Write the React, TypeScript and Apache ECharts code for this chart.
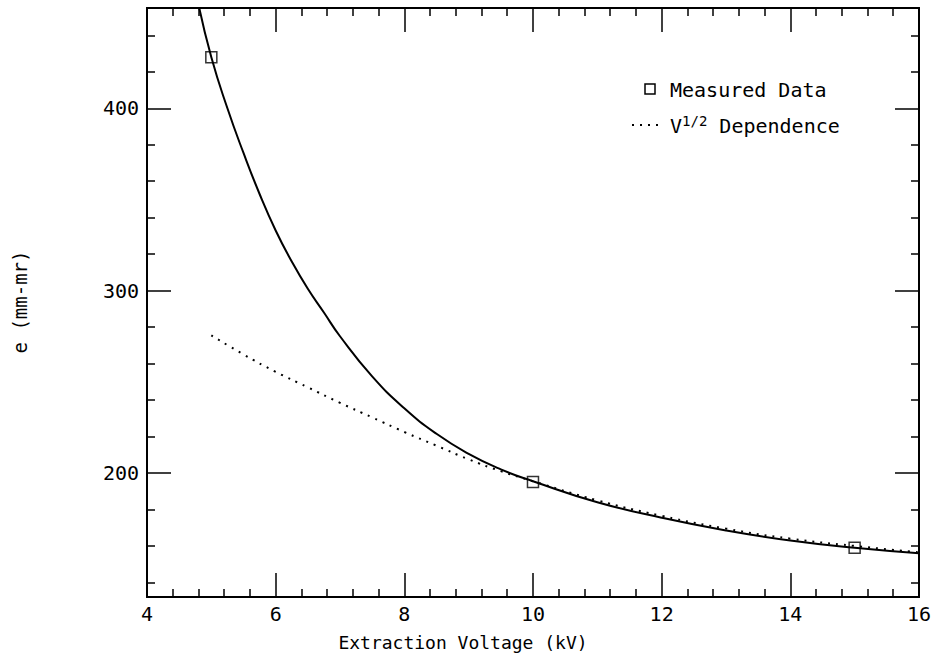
import React, { useEffect, useRef } from "react";
import * as echarts from "echarts";

// Measured data points
const measuredVoltage = [5, 10, 15];
const measuredEmittance = [428, 195, 159];

// Solid fitted curve
const fitVoltage = [4.8, 5.0, 5.25, 5.5, 5.75, 6.0, 6.25, 6.5, 6.75, 7.0, 7.5, 8.0, 8.5, 9.0, 9.5, 10.0, 11.0, 12.0, 13.0, 14.0, 15.0, 16.0];
const fitEmittance = [457, 428, 400, 375.5, 353, 333, 316, 301, 288, 275, 253, 235.5, 221.5, 210.5, 202, 195.5, 184, 175.5, 168.5, 163, 159, 156];

// Dotted V^1/2 dependence curve
const sqrtVoltage = [5, 5.5, 6, 6.5, 7, 7.5, 8, 8.5, 9, 9.5, 10, 11, 12, 13, 14, 15, 16];
const sqrtEmittance = [275.5, 265, 255.5, 247, 238.5, 230.5, 222.5, 215, 207.5, 201, 195.5, 185, 176.5, 169.5, 164, 160, 156.5];

// Axis ticks
const yMajorTicks = [200, 300, 400];
const yMinorTicks = [140, 160, 180, 220, 240, 260, 280, 320, 340, 360, 380, 420, 440];

// Legend labels
const legendMeasured = "Measured Data";
const legendSqrt = "{v|V}{s|1/2}{v| Dependence}";

const FONT = "DejaVu Sans Mono";
const BLACK = "#000";

export default function App() {
  const ref = useRef<HTMLDivElement>(null);

  useEffect(() => {
    document.body.style.margin = "0";
    const chart = echarts.init(ref.current!, null, { renderer: "svg" });

    const baseX = {
      type: "value",
      min: 4,
      max: 16,
      interval: 2,
      axisLine: { show: true, onZero: false, lineStyle: { color: BLACK, width: 2 } },
      axisTick: { show: true, inside: true, length: 24, lineStyle: { color: BLACK, width: 1.5 } },
      minorTick: { show: true, splitNumber: 5, length: 8, lineStyle: { color: BLACK, width: 1.5 } },
      splitLine: { show: false },
      minorSplitLine: { show: false },
    };

    const baseY = {
      type: "value",
      min: 132,
      max: 455,
      axisLine: { show: true, onZero: false, lineStyle: { color: BLACK, width: 2 } },
      splitLine: { show: false },
    };

    const option: any = {
      animation: false,
      backgroundColor: "#fff",
      grid: { left: 147, right: 11, top: 8, bottom: 60, containLabel: false },
      xAxis: [
        {
          ...baseX,
          position: "bottom",
          axisLabel: { show: true, color: BLACK, fontSize: 20, fontFamily: FONT, margin: 7 },
        },
        {
          ...baseX,
          position: "top",
          axisLabel: { show: false },
        },
      ],
      yAxis: [
        {
          ...baseY,
          position: "left",
          axisTick: { show: true, inside: true, length: 24, customValues: yMajorTicks, lineStyle: { color: BLACK, width: 1.5 } },
          axisLabel: { show: true, customValues: yMajorTicks, color: BLACK, fontSize: 20, fontFamily: FONT, margin: 8 },
        },
        {
          ...baseY,
          position: "left",
          axisTick: { show: true, inside: true, length: 8, customValues: yMinorTicks, lineStyle: { color: BLACK, width: 1.5 } },
          axisLabel: { show: false },
        },
        {
          ...baseY,
          position: "right",
          axisTick: { show: true, inside: true, length: 24, customValues: yMajorTicks, lineStyle: { color: BLACK, width: 1.5 } },
          axisLabel: { show: false },
        },
        {
          ...baseY,
          position: "right",
          axisTick: { show: true, inside: true, length: 8, customValues: yMinorTicks, lineStyle: { color: BLACK, width: 1.5 } },
          axisLabel: { show: false },
        },
      ],
      series: [
        {
          name: "Fit",
          type: "line",
          xAxisIndex: 0,
          yAxisIndex: 0,
          data: fitVoltage.map((v, i) => [v, fitEmittance[i]]),
          smooth: 0.5,
          symbol: "none",
          clip: true,
          lineStyle: { color: BLACK, width: 2 },
          z: 3,
        },
        {
          name: "V1/2 Dependence",
          type: "line",
          xAxisIndex: 0,
          yAxisIndex: 0,
          data: sqrtVoltage.map((v, i) => [v, sqrtEmittance[i]]),
          smooth: 0.5,
          symbol: "none",
          clip: true,
          lineStyle: { color: BLACK, width: 2, type: [2, 6], cap: "butt" },
          z: 2,
        },
        {
          name: "Measured Data",
          type: "scatter",
          xAxisIndex: 0,
          yAxisIndex: 0,
          data: measuredVoltage.map((v, i) => [v, measuredEmittance[i]]),
          symbol: "rect",
          symbolSize: 11,
          itemStyle: { color: "rgba(0,0,0,0)", borderColor: BLACK, borderWidth: 1.5 },
          z: 4,
        },
      ],
      graphic: [
        // legend
        {
          type: "rect",
          shape: { x: 645, y: 84, width: 10, height: 10 },
          style: { fill: "none", stroke: BLACK, lineWidth: 1.5 },
        },
        {
          type: "text",
          x: 670,
          y: 90,
          style: {
            text: legendMeasured,
            fontSize: 20,
            fontFamily: FONT,
            fill: BLACK,
            textAlign: "left",
            textVerticalAlign: "middle",
          },
        },
        {
          type: "line",
          shape: { x1: 632, y1: 125, x2: 662, y2: 125 },
          style: { stroke: BLACK, lineWidth: 2, lineDash: [2, 6] },
        },
        {
          type: "text",
          x: 670,
          y: 126,
          style: {
            text: legendSqrt,
            fontFamily: FONT,
            fill: BLACK,
            textAlign: "left",
            textVerticalAlign: "middle",
            rich: {
              v: { fontSize: 20, fontFamily: FONT, fill: BLACK, lineHeight: 24 },
              s: { fontSize: 14, fontFamily: FONT, fill: BLACK, verticalAlign: "top", lineHeight: 14 },
            },
          },
        },
        // axis titles
        {
          type: "text",
          x: 463,
          y: 642,
          style: {
            text: "Extraction Voltage (kV)",
            fontSize: 18,
            fontFamily: FONT,
            fill: BLACK,
            textAlign: "center",
            textVerticalAlign: "middle",
          },
        },
        {
          type: "text",
          x: 20,
          y: 302,
          rotation: Math.PI / 2,
          style: {
            text: "e (mm-mr)",
            fontSize: 19,
            fontFamily: FONT,
            fill: BLACK,
            textAlign: "center",
            textVerticalAlign: "middle",
          },
        },
      ],
    };

    chart.setOption(option);
    return () => chart.dispose();
  }, []);

  return <div ref={ref} style={{ width: 934, height: 657 }} />;
}
